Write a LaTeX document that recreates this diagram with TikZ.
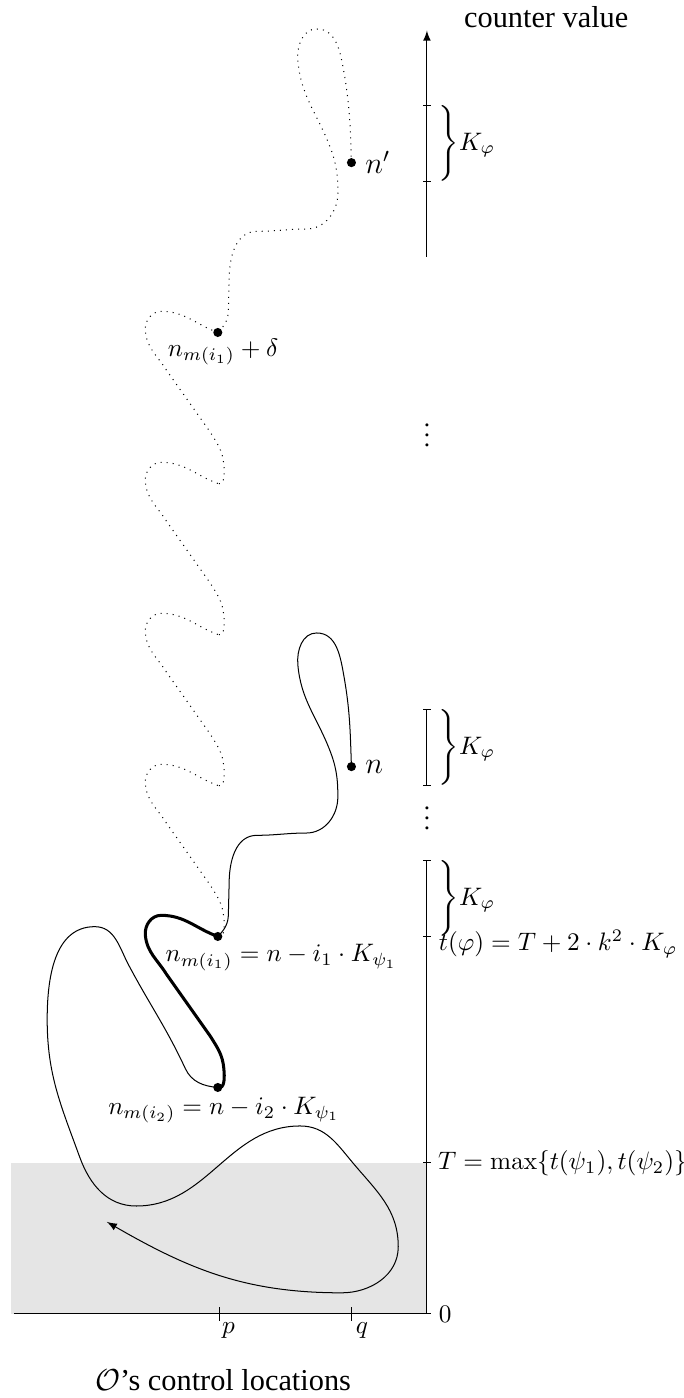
\documentclass[tikz,border=0pt]{standalone}
\usepackage[no-math]{fontspec}
\setmainfont{Liberation Serif}
\usepackage{amsmath}
\usepackage{amssymb}
\usetikzlibrary{arrows}

\newcommand{\wiggle}[1]{(-2.77,#1) to[out=160,in=0] (-3.52,#1+0.28) to[out=180,in=95] (-3.73,#1+0.02) to[out=-85,in=122] (-3.45,#1-0.5) -- (-2.87,#1-1.32) to[out=-58,in=95] (-2.69,#1-1.75) to[out=-85,in=-15] (-2.77,#1-2)}
\newcommand{\nloop}{(-1,7.25) to[out=92,in=-80] (-1.1,8.45) to[out=100,in=0] (-1.46,9.02) to[out=180,in=95] (-1.71,8.6) to[out=-85,in=112] (-1.3,7.5) to[out=-68,in=90] (-1.18,6.85) to[out=-90,in=0] (-1.6,6.37) to[out=180,in=0] (-2.25,6.34) to[out=180,in=90] (-2.62,5.7) -- (-2.63,5.3) to[out=-90,in=45] (-2.77,5)}

\begin{document}
\begin{tikzpicture}[x=1.05cm,y=1.05cm,>=latex,
    dot/.style={circle,fill,inner sep=0pt,minimum size=3.6pt}]
    \useasboundingbox (-5.655,-1.113) rectangle (3.404,17.404);
    \fill[gray!20] (-5.51,0) rectangle (0,2);

    \draw (-5.47,0) -- (0,0);
    \draw (0,0) -- (0,6);
    \draw (0,7) -- (0,8);
    \draw[->] (0,14) -- (0,17);
    \foreach \t in {0,2,5,6,7,8,15,16}
        \draw (-0.05,\t) -- (0.05,\t);
    \foreach \x in {-2.75,-1}
        \draw (\x,-0.09) -- (\x,0.09);
    \node (vd1) at (0,6.66) {$\vdots$};
    \node (vd2) at (0,11.74) {$\vdots$};

    \node[right] (kb1) at (0.04,15.5) {$\Bigg\}K_\varphi$};
    \node[right] (kb2) at (0.04,7.5) {$\Bigg\}K_\varphi$};
    \node[right] (kb3) at (0.04,5.5) {$\Bigg\}K_\varphi$};
    \node[right] (lt) at (0.04,4.9) {$t(\varphi) = T + 2\cdot k^2\cdot K_\varphi$};
    \node[right] (lT) at (0.03,2) {$T = \max\{t(\psi_1), t(\psi_2)\}$};
    \node[right] (l0) at (0.04,0) {$0$};
    \node (lp) at (-2.63,-0.22) {$p$};
    \node (lq) at (-0.86,-0.22) {$q$};
    \node (cv) at (1.58,17.18) {\large counter value};
    \node (cl) at (-2.7,-0.87) {\large $\mathcal{O}$'s control locations};

    \node[dot] (n) at (-1,7.25) {};
    \node[dot] (np) at (-1,15.25) {};
    \node[dot] (md) at (-2.77,13) {};
    \node[dot] (mi1) at (-2.77,5) {};
    \node[dot] (mi2) at (-2.77,3) {};
    \node[right] (ln) at (n.east) {\large $n$};
    \node[right] (lnp) at (np.east) {\large $n'$};
    \node (lmd) at (-2.7,12.74) {$n_{m(i_1)} + \delta$};
    \node (lmi1) at (-1.93,4.72) {$n_{m(i_1)} = n - i_1\cdot K_{\psi_1}$};
    \node (lmi2) at (-2.69,2.70) {$n_{m(i_2)} = n - i_2\cdot K_{\psi_1}$};

    \draw \nloop;
    \draw[dotted,shift={(0,8)}] \nloop;
    \foreach \y in {13,11,9,7}
        \draw[dotted] \wiggle{\y};
    \draw[line width=1.2pt] \wiggle{5};
    \draw[->] (mi2.center) to[out=175,in=-65] (-3.2,3.25) to[out=115,in=-62] (-3.95,4.62) to[out=118,in=0] (-4.4,5.13) to[out=180,in=90] (-5.03,3.9) to[out=-90,in=110] (-4.6,2.08) to[out=-70,in=180] (-3.85,1.43) to[out=0,in=180] (-1.68,2.49) to[out=0,in=130] (-0.98,2.0) to[out=-50,in=90] (-0.38,0.89) to[out=-90,in=0] (-1.13,0.28) to[out=180,in=-30] (-4.24,1.22);
\end{tikzpicture}
\end{document}
